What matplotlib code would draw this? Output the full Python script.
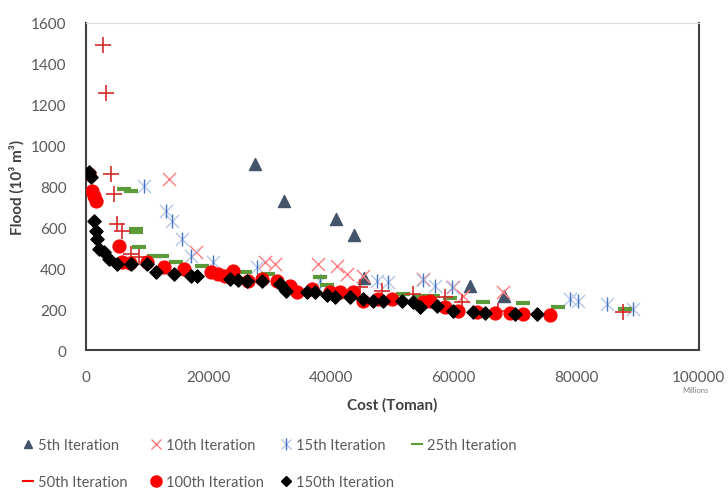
import matplotlib
matplotlib.use("Agg")
import matplotlib.pyplot as plt
from matplotlib.lines import Line2D
from matplotlib.legend_handler import HandlerTuple

plt.rcParams["font.family"] = ["Lato", "DejaVu Sans"]

# values (cost in Toman millions, flood in 10^3 m^3)
it5_x = [27600, 32300, 40800, 43700, 45300, 62600, 68200]
it5_y = [910, 729, 641, 563, 352, 313, 264]

it10_x = [13500, 17900, 29200, 30800, 37800, 40900, 42600, 45200, 55000, 59900, 61500, 68000]
it10_y = [837, 479, 430, 421, 421, 411, 372, 362, 347, 308, 264, 284]

it15_x = [9500, 13000, 14000, 15700, 17100, 20700, 27900, 38200, 47500, 49300,
          55000, 56900, 59700, 78900, 80200, 85000, 89200]
it15_y = [802, 680, 631, 543, 460, 430, 406, 338, 338, 333,
          342, 313, 308, 250, 240, 225, 200]

it25_x = [6200, 7300, 8200, 8200, 8600, 11100, 12400, 14700, 18900, 25900, 29700,
          38200, 39300, 51700, 54500, 56600, 59400, 64800, 71300, 77000, 87900]
it25_y = [788, 778, 592, 577, 504, 460, 460, 430, 411, 382, 372,
          357, 318, 274, 264, 264, 254, 235, 230, 210, 200]

it50_x = [2800, 3300, 4100, 4600, 5100, 5900, 7300, 8600, 44700, 48300,
          53300, 58600, 61300, 67200, 87600]
it50_y = [1492, 1257, 861, 763, 616, 582, 470, 455, 308, 289,
          274, 259, 235, 191, 186]

it100_x = [490, 980, 1300, 1630, 5380, 5870, 7200, 9950, 12700, 16000, 20400, 21500,
           22700, 24000, 26400, 28700, 31200, 33300, 34400, 36900, 39800, 41400,
           43500, 45200, 47600, 49900, 55000, 56100, 58600, 60700, 63800, 66700,
           69200, 71300, 75700]
it100_y = [861, 778, 753, 729, 509, 430, 425, 430, 406, 396, 382, 372,
           362, 386, 338, 347, 338, 313, 284, 298, 284, 284,
           284, 240, 250, 250, 235, 240, 210, 191, 186, 181,
           181, 176, 171]

it150_x = [500, 800, 1300, 1600, 1800, 2100, 2900, 3750, 5100, 7300, 9950, 11400,
           14400, 17100, 18100, 23500, 24800, 26300, 28700, 31600, 32600, 36000,
           37400, 39300, 40600, 43100, 45200, 46800, 48400, 51500, 53300, 54500,
           57200, 59900, 63100, 65100, 70000, 73600]
it150_y = [870, 846, 631, 582, 543, 494, 479, 445, 421, 421, 421, 382,
           372, 362, 362, 347, 342, 338, 338, 323, 289, 284,
           284, 269, 259, 259, 250, 240, 240, 240, 235, 210,
           215, 191, 186, 181, 176, 176]

fig = plt.figure(figsize=(7.28, 4.89), dpi=100)
ax = fig.add_axes([0.118, 0.282, 0.842, 0.669])

ax.scatter(it5_x, it5_y, marker="^", s=75, color="#44546A", zorder=3)
ax.scatter(it10_x, it10_y, marker="x", s=90, color="#FF7C80", linewidths=1, zorder=3)
ax.scatter(it15_x, it15_y, marker="x", s=90, color="#B4C7E7", linewidths=1, zorder=3)
ax.scatter(it15_x, it15_y, marker="|", s=110, color="#4472C4", linewidths=1, zorder=3)
ax.scatter(it25_x, it25_y, marker="_", s=110, color="#5B9B3A", linewidths=3, zorder=4)
ax.scatter(it50_x, it50_y, marker="+", s=120, color="#D42A2A", linewidths=1.2, zorder=4)
ax.scatter(it100_x, it100_y, marker="o", s=85, color="#FF0000", zorder=5)
ax.scatter(it150_x, it150_y, marker="D", s=45, color="black", zorder=6)

ax.set_xlim(0, 100000)
ax.set_ylim(0, 1600)
ax.set_xticks(range(0, 100001, 20000))
ax.set_yticks(range(0, 1601, 200))
ax.tick_params(length=0, labelsize=11, labelcolor="#595959", pad=14)
for s in ["left", "bottom", "right"]:
    ax.spines[s].set_color("#404040")
    ax.spines[s].set_linewidth(1.5)
ax.spines["top"].set_color("#D9D9D9")

ax.set_xlabel("Cost (Toman)", fontsize=11, fontweight="bold", color="#404040", labelpad=10)
ax.set_ylabel("Flood (10³ m³)", fontsize=11, fontweight="bold", color="#404040")
ax.yaxis.set_label_coords(-0.1, 0.5)
fig.text(0.955, 0.197, "Millions", fontsize=5.5, color="#808080", ha="center")

h5 = Line2D([], [], ls="none", marker="^", ms=6, color="#44546A")
h10 = Line2D([], [], ls="none", marker="x", ms=7, color="#FF7C80", mew=1)
h15a = Line2D([], [], ls="none", marker="x", ms=7, color="#B4C7E7", mew=1)
h15b = Line2D([], [], ls="none", marker="|", ms=8, color="#4472C4", mew=1)
h25 = Line2D([], [], ls="none", marker="_", ms=9, color="#5B9B3A", mew=1.5)
h50 = Line2D([], [], ls="none", marker="_", ms=9, color="#FF0000", mew=1.5)
h100 = Line2D([], [], ls="none", marker="o", ms=8, color="#FF0000")
h150 = Line2D([], [], ls="none", marker="D", ms=5, color="black")

# one small legend per column so each column sits where the reference puts it
columns = [
    ([h5, h50], ["5th Iteration", "50th Iteration"], 0.030),
    ([h10, h100], ["10th Iteration", "100th Iteration"], 0.206),
    ([(h15a, h15b), h150], ["15th Iteration", "150th Iteration"], 0.385),
    ([h25], ["25th Iteration"], 0.565),
]
for hs, labs, x0 in columns:
    fig.legend(hs, labs, loc="upper left", bbox_to_anchor=(x0, 0.102),
               frameon=False, fontsize=10.5, labelcolor="#595959", handlelength=0.8,
               handletextpad=0.3, labelspacing=1.55, borderaxespad=0, borderpad=0,
               handler_map={tuple: HandlerTuple(ndivide=None, pad=-0.8)})

fig.savefig("out.png", dpi=100)
